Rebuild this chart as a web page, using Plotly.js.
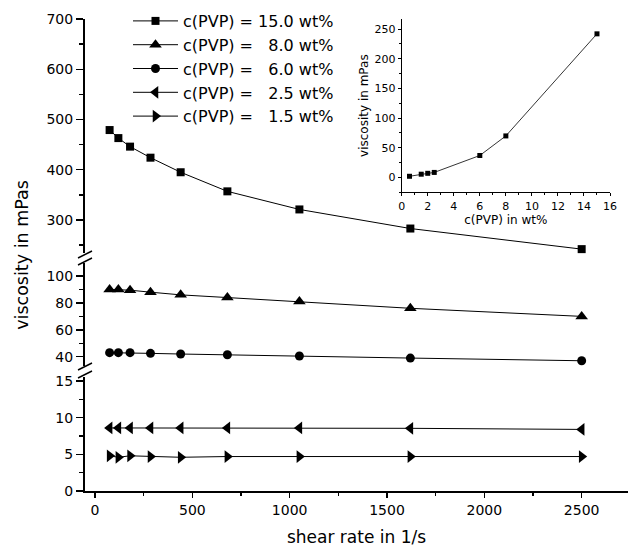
<!DOCTYPE html>
<html>
<head>
<meta charset="utf-8">
<script src="https://cdn.plot.ly/plotly-3.0.1.min.js"></script>
<style>html,body{margin:0;padding:0;background:#fff;}</style>
</head>
<body>
<div id="chart" style="width:628px;height:549px;"></div>
<script>
// ---- data ----
const shearRate = [75, 120, 180, 285, 440, 680, 1050, 1620, 2500];
const visc150 = [479, 463, 446, 424, 395, 357, 321, 283, 242];
const visc80  = [90, 90, 89.5, 88, 86, 84, 81, 76, 70];
const visc60  = [43, 43, 43, 42.5, 42, 41.5, 40.5, 39, 37];
const visc25  = [8.6, 8.6, 8.6, 8.6, 8.6, 8.6, 8.6, 8.55, 8.4];
const visc15  = [4.8, 4.6, 4.8, 4.7, 4.6, 4.7, 4.7, 4.7, 4.7];
const seriesNames = [
  "c(PVP) = 15.0 wt%",
  "c(PVP) = \u00A0\u00A08.0 wt%",
  "c(PVP) = \u00A0\u00A06.0 wt%",
  "c(PVP) = \u00A0\u00A02.5 wt%",
  "c(PVP) = \u00A0\u00A01.5 wt%"
];
const insetConc = [0.6, 1.5, 2.0, 2.5, 6, 8, 15];
const insetVisc = [2, 5.5, 7, 8.5, 37, 70, 242];

// ---- layout geometry helpers (pixels -> paper) ----
const W = 628, H = 549, L = 85, R = 0, T = 19, B = 58;
const PW = W - L - R, PH = H - T - B;
const px = x => (x - L) / PW;
const py = y => (H - B - y) / PH;

const FONT = "DejaVu Sans, Liberation Sans, Arial, sans-serif";
const line = {color: "#000", width: 1};

function tr(x, y, yaxis, name, symbol, size) {
  return {
    x: x, y: y, xaxis: "x", yaxis: yaxis, name: name, type: "scatter",
    mode: "lines+markers", line: line, cliponaxis: false,
    marker: {symbol: symbol, size: size, color: "#000"}
  };
}

const data = [
  tr(shearRate, visc150, "y3", seriesNames[0], "square", 8),
  tr(shearRate, visc80, "y2", seriesNames[1], "triangle-up", 11),
  tr(shearRate, visc60, "y2", seriesNames[2], "circle", 9),
  tr(shearRate, visc25, "y", seriesNames[3], "triangle-left", 11),
  tr(shearRate, visc15, "y", seriesNames[4], "triangle-right", 11),
  {
    x: insetConc, y: insetVisc, xaxis: "x2", yaxis: "y4", type: "scatter",
    mode: "lines+markers", showlegend: false, cliponaxis: false,
    line: {color: "#000", width: 0.8},
    marker: {symbol: "square", size: 5, color: "#000"}
  },
  // empty helper trace so the full-height title axis is drawn
  {x: [], y: [], xaxis: "x", yaxis: "y5", type: "scatter", mode: "markers", showlegend: false, hoverinfo: "skip"}
];

const yCommon = {
  showline: true, linewidth: 2, linecolor: "#000", mirror: false,
  ticks: "outside", ticklen: 7, tickwidth: 1.5, tickcolor: "#000",
  showgrid: false, zeroline: false, anchor: "x",
  tickfont: {family: FONT, size: 14, color: "#000"}
};

const layout = {
  width: W, height: H,
  margin: {l: L, r: R, t: T, b: B},
  paper_bgcolor: "#fff", plot_bgcolor: "rgba(0,0,0,0)",
  font: {family: FONT, color: "#000"},
  showlegend: true,
  legend: {
    x: px(128), y: py(4), xanchor: "left", yanchor: "top",
    bgcolor: "rgba(0,0,0,0)", borderwidth: 0,
    font: {family: FONT, size: 16, color: "#000"},
    itemwidth: 45, tracegroupgap: 0
  },
  xaxis: {
    range: [-51.4, 2738], domain: [0, 1], anchor: "y",
    showline: true, linewidth: 2, linecolor: "#000",
    ticks: "outside", ticklen: 5, tickwidth: 1.5, tickcolor: "#000",
    tickvals: [0, 500, 1000, 1500, 2000, 2500],
    minor: {dtick: 250, tick0: 0, ticks: "outside", ticklen: 3, tickwidth: 1.5, tickcolor: "#000"},
    showgrid: false, zeroline: false,
    tickfont: {family: FONT, size: 14, color: "#000"},
    title: {text: "shear rate in 1/s", font: {family: FONT, size: 17, color: "#000"}, standoff: 14}
  },
  yaxis: Object.assign({}, yCommon, {
    domain: [0, py(377)], range: [0, 15.55],
    tickvals: [0, 5, 10, 15],
    minor: {dtick: 2.5, tick0: 0, ticks: "outside", ticklen: 4, tickwidth: 1.5, tickcolor: "#000"}
  }),
  yaxis2: Object.assign({}, yCommon, {
    domain: [py(366), py(263)], range: [33.1, 109.7],
    tickvals: [40, 60, 80, 100],
    minor: {dtick: 10, tick0: 0, ticks: "outside", ticklen: 4, tickwidth: 1.5, tickcolor: "#000"}
  }),
  yaxis3: Object.assign({}, yCommon, {
    domain: [py(253), 1], range: [234.3, 700],
    tickvals: [300, 400, 500, 600, 700],
    minor: {dtick: 50, tick0: 0, ticks: "outside", ticklen: 4, tickwidth: 1.5, tickcolor: "#000"}
  }),
  yaxis5: {
    domain: [0, 1], anchor: "x", range: [0, 1],
    showline: false, showticklabels: false, ticks: "", showgrid: false, zeroline: false,
    title: {text: "viscosity in mPas", font: {family: FONT, size: 17.5, color: "#000"}, standoff: 50}
  },
  xaxis2: {
    domain: [px(401.7), px(610)], anchor: "y4", range: [0, 16],
    showline: true, linewidth: 1, linecolor: "#000",
    ticks: "outside", ticklen: 3, tickwidth: 1, tickcolor: "#000",
    dtick: 2, tick0: 0,
    minor: {dtick: 1, ticks: "outside", ticklen: 2, tickwidth: 1, tickcolor: "#000"},
    showgrid: false, zeroline: false,
    tickfont: {family: FONT, size: 11, color: "#000"},
    title: {text: "c(PVP) in wt%", font: {family: FONT, size: 12, color: "#000"}, standoff: 4}
  },
  yaxis4: {
    domain: [py(192.3), 1], anchor: "x2", range: [-25, 267],
    showline: true, linewidth: 1, linecolor: "#000",
    ticks: "outside", ticklen: 3, tickwidth: 1, tickcolor: "#000",
    dtick: 50, tick0: 0,
    minor: {dtick: 25, ticks: "outside", ticklen: 2, tickwidth: 1, tickcolor: "#000"},
    showgrid: false, zeroline: false,
    tickfont: {family: FONT, size: 11, color: "#000"},
    title: {text: "viscosity in mPas", font: {family: FONT, size: 12, color: "#000"}, standoff: 3}
  },
  shapes: [
    // axis break marks (paper coordinates)
    {type: "line", xref: "paper", yref: "paper", x0: px(78), y0: py(258), x1: px(92), y1: py(251), line: {color: "#000", width: 1.5}},
    {type: "line", xref: "paper", yref: "paper", x0: px(78), y0: py(265), x1: px(92), y1: py(258), line: {color: "#000", width: 1.5}},
    {type: "line", xref: "paper", yref: "paper", x0: px(78), y0: py(370), x1: px(92), y1: py(363), line: {color: "#000", width: 1.5}},
    {type: "line", xref: "paper", yref: "paper", x0: px(78), y0: py(378), x1: px(92), y1: py(371), line: {color: "#000", width: 1.5}}
  ]
};

Plotly.newPlot("chart", data, layout, {staticPlot: true, displayModeBar: false});
</script>
</body>
</html>
